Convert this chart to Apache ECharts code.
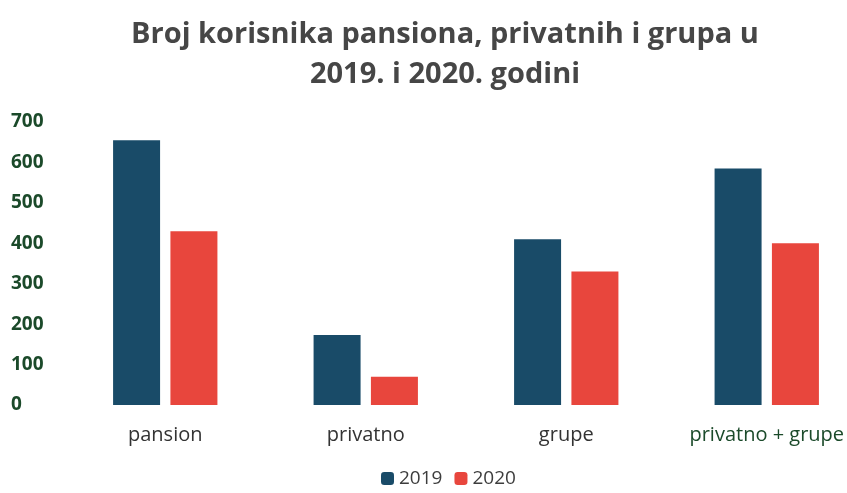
<!DOCTYPE html>
<html>
<head>
<meta charset="utf-8">
<script src="https://cdn.jsdelivr.net/npm/echarts@6/dist/echarts.min.js"></script>
<style>
  html, body { margin: 0; padding: 0; background: #fff; }
  #chart { width: 847px; height: 493px; }
</style>
</head>
<body>
<div id="chart"></div>
<script>
// podaci očitani s grafa
const categories = ["pansion", "privatno", "grupe", "privatno + grupe"]
const values2019 = [655, 173, 410, 585]
const values2020 = [430, 70, 330, 400]
const yTicks = [0, 100, 200, 300, 400, 500, 600, 700]

const myChart = echarts.init(document.getElementById("chart"))

const option = {
  animation: false,
  title: {
    text: "Broj korisnika pansiona, privatnih i grupa u\n2019. i 2020. godini",
    left: 440,
    textAlign: "center",
    top: 10,
    textStyle: {
      fontFamily: "Open Sans",
      fontSize: 29,
      fontWeight: "bold",
      color: "#464646",
      lineHeight: 40,
    },
  },
  legend: {
    data: ["2019", "2020"],
    bottom: 0,
    left: 376,
    itemWidth: 13,
    itemHeight: 13,
    itemGap: 12,
    textStyle: { fontFamily: "Open Sans", fontSize: 19, color: "#3d3d3d" },
  },
  grid: {
    left: 65,
    width: 802,
    top: 122,
    bottom: 88,
    outerBoundsMode: "none",
  },
  xAxis: {
    type: "category",
    data: categories,
    axisLine: { show: false },
    axisTick: { show: false },
    axisLabel: {
      interval: 0,
      fontFamily: "Open Sans",
      fontSize: 20,
      margin: 20,
      color: (val) => (val === "privatno + grupe" ? "#1b4a2a" : "#333333"),
    },
  },
  yAxis: {
    type: "value",
    min: 0,
    max: 700,
    interval: 100,
    splitLine: { show: false },
    axisLine: { show: false },
    axisTick: { show: false },
    axisLabel: {
      fontFamily: "Open Sans",
      fontSize: 19,
      fontWeight: "bold",
      color: "#1b4a2a",
      align: "left",
      margin: 54,
      formatter: (v) => (yTicks.includes(v) ? String(v) : ""),
    },
  },
  series: [
    {
      name: "2019",
      type: "bar",
      data: values2019,
      barWidth: 47,
      barGap: "22%",
      itemStyle: { color: "#194b68" },
    },
    {
      name: "2020",
      type: "bar",
      data: values2020,
      barWidth: 47,
      itemStyle: { color: "#e8463d" },
    },
  ],
}

myChart.setOption(option)
</script>
</body>
</html>
